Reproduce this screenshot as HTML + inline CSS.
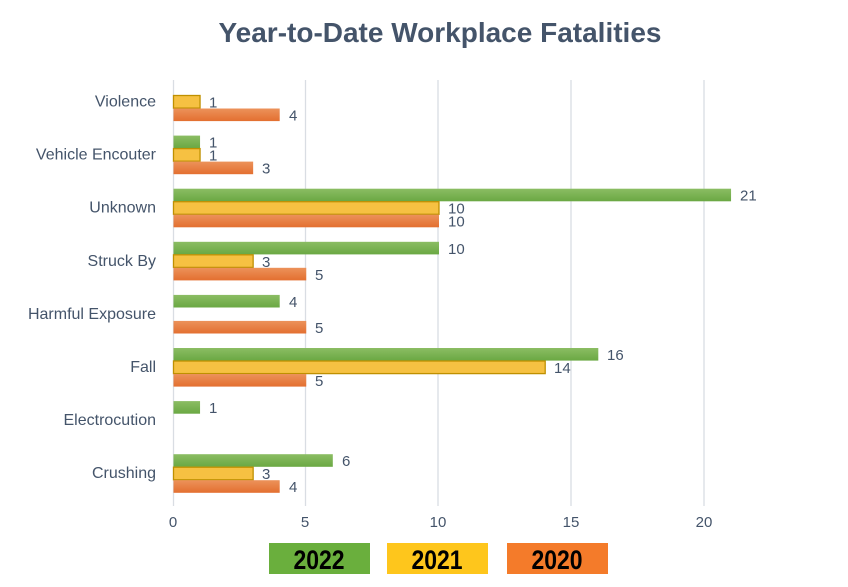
<!DOCTYPE html>
<html><head><style>
body{margin:0;background:#fff;}
svg text{font-family:"Liberation Sans",sans-serif;}
</style></head><body>
<svg width="848" height="582" xmlns="http://www.w3.org/2000/svg">
<defs>
<linearGradient id="g" x1="0" y1="0" x2="0" y2="1"><stop offset="0" stop-color="#8bbd63"/><stop offset="1" stop-color="#6aa843"/></linearGradient>
<linearGradient id="o" x1="0" y1="0" x2="0" y2="1"><stop offset="0" stop-color="#ec925a"/><stop offset="1" stop-color="#e36f30"/></linearGradient>
</defs>
<text x="440" y="42" text-anchor="middle" font-size="28" font-weight="bold" fill="#44546a">Year-to-Date Workplace Fatalities</text>
<g stroke="#d9dde3" stroke-width="1.3">
<line x1="173.5" y1="80" x2="173.5" y2="506"/><line x1="305.5" y1="80" x2="305.5" y2="506"/><line x1="438" y1="80" x2="438" y2="506"/><line x1="571" y1="80" x2="571" y2="506"/><line x1="704" y1="80" x2="704" y2="506"/>
</g>
<g font-size="15" fill="#44546a" text-anchor="middle">
<text x="173" y="527">0</text><text x="305" y="527">5</text><text x="438" y="527">10</text><text x="571" y="527">15</text><text x="704" y="527">20</text>
</g>
<g font-size="16" fill="#44546a" text-anchor="end">
<text x="156" y="106.5">Violence</text>
<text x="156" y="159.6">Vehicle Encouter</text>
<text x="156" y="212.7">Unknown</text>
<text x="156" y="265.8">Struck By</text>
<text x="156" y="318.9">Harmful Exposure</text>
<text x="156" y="372">Fall</text>
<text x="156" y="425.1">Electrocution</text>
<text x="156" y="478.2">Crushing</text>
</g>
<g>
<rect x="173.5" y="95.5" width="26.55" height="12.6" fill="#f6c142" stroke="#bf9000" stroke-width="1.3"/>
<rect x="173.5" y="108.5" width="106.2" height="12.6" fill="url(#o)"/>
<rect x="173.5" y="135.6" width="26.55" height="12.6" fill="url(#g)"/>
<rect x="173.5" y="148.6" width="26.55" height="12.6" fill="#f6c142" stroke="#bf9000" stroke-width="1.3"/>
<rect x="173.5" y="161.6" width="79.65" height="12.6" fill="url(#o)"/>
<rect x="173.5" y="188.7" width="557.55" height="12.6" fill="url(#g)"/>
<rect x="173.5" y="201.7" width="265.5" height="12.6" fill="#f6c142" stroke="#bf9000" stroke-width="1.3"/>
<rect x="173.5" y="214.7" width="265.5" height="12.6" fill="url(#o)"/>
<rect x="173.5" y="241.8" width="265.5" height="12.6" fill="url(#g)"/>
<rect x="173.5" y="254.8" width="79.65" height="12.6" fill="#f6c142" stroke="#bf9000" stroke-width="1.3"/>
<rect x="173.5" y="267.8" width="132.75" height="12.6" fill="url(#o)"/>
<rect x="173.5" y="294.9" width="106.2" height="12.6" fill="url(#g)"/>
<rect x="173.5" y="320.9" width="132.75" height="12.6" fill="url(#o)"/>
<rect x="173.5" y="348" width="424.8" height="12.6" fill="url(#g)"/>
<rect x="173.5" y="361" width="371.7" height="12.6" fill="#f6c142" stroke="#bf9000" stroke-width="1.3"/>
<rect x="173.5" y="374" width="132.75" height="12.6" fill="url(#o)"/>
<rect x="173.5" y="401.1" width="26.55" height="12.6" fill="url(#g)"/>
<rect x="173.5" y="454.2" width="159.3" height="12.6" fill="url(#g)"/>
<rect x="173.5" y="467.2" width="79.65" height="12.6" fill="#f6c142" stroke="#bf9000" stroke-width="1.3"/>
<rect x="173.5" y="480.2" width="106.2" height="12.6" fill="url(#o)"/>
</g>
<g font-size="15" fill="#44546a">
<text x="209" y="107.5">1</text>
<text x="289" y="120.5">4</text>
<text x="209" y="147.6">1</text>
<text x="209" y="160.6">1</text>
<text x="262" y="173.6">3</text>
<text x="740" y="200.7">21</text>
<text x="448" y="213.7">10</text>
<text x="448" y="226.7">10</text>
<text x="448" y="253.8">10</text>
<text x="262" y="266.8">3</text>
<text x="315" y="279.8">5</text>
<text x="289" y="306.9">4</text>
<text x="315" y="332.9">5</text>
<text x="607" y="360">16</text>
<text x="554" y="373">14</text>
<text x="315" y="386">5</text>
<text x="209" y="413.1">1</text>
<text x="342" y="466.2">6</text>
<text x="262" y="479.2">3</text>
<text x="289" y="492.2">4</text>
</g>
<rect x="269" y="543" width="101" height="31" fill="#6aaf3d"/>
<rect x="387" y="543" width="101" height="31" fill="#fec61c"/>
<rect x="507" y="543" width="101" height="31" fill="#f47b2a"/>
<g font-size="27" font-weight="bold" fill="#000" text-anchor="middle">
<text x="319" y="569" transform="translate(319 0) scale(0.85 1) translate(-319 0)">2022</text>
<text x="437" y="569" transform="translate(437 0) scale(0.85 1) translate(-437 0)">2021</text>
<text x="557" y="569" transform="translate(557 0) scale(0.85 1) translate(-557 0)">2020</text>
</g>
</svg>
</body></html>
